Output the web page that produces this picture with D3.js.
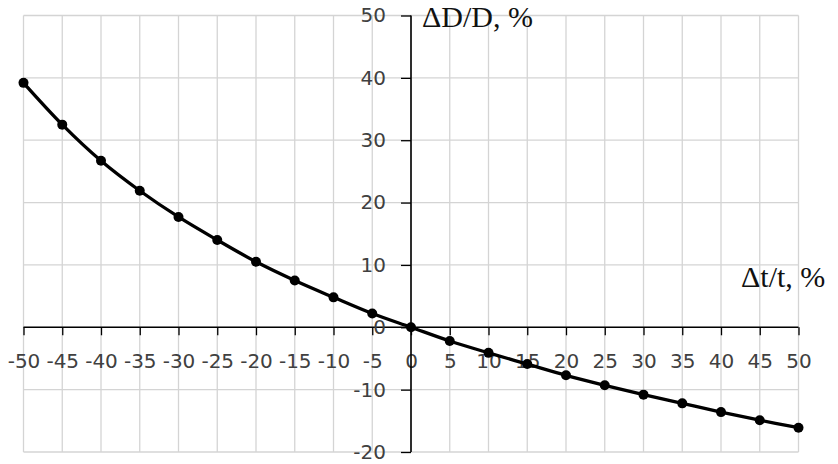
<!DOCTYPE html>
<html><head><meta charset="utf-8">
<script src="https://cdn.jsdelivr.net/npm/d3@7"></script>
<style>body{margin:0;background:#fff}svg{display:block}</style>
</head><body>
<script>
const xValues = [-50,-45,-40,-35,-30,-25,-20,-15,-10,-5,0,5,10,15,20,25,30,35,40,45,50];
const yValues = [39.2,32.5,26.7,21.9,17.7,14.0,10.5,7.5,4.8,2.2,0,-2.2,-4.1,-5.9,-7.7,-9.3,-10.8,-12.2,-13.6,-14.9,-16.1];
const xTicks = d3.range(-50, 51, 5);
const yTicks = [-20,-10,0,10,20,30,40,50];
const xTitle = "Δt/t, %";
const yTitle = "ΔD/D, %";

const W = 838, H = 464;
const svg = d3.select("body").append("svg").attr("width", W).attr("height", H);
const x = d3.scaleLinear().domain([-50, 50]).range([23.5, 798.5]);
const y = d3.scaleLinear().domain([-20, 50]).range([452, 15.5]);
const fmt = d => String(d);

// grid
const grid = svg.append("g").attr("stroke", "#d4d4d4").attr("stroke-width", 1.3);
grid.selectAll("line.v").data(xTicks).join("line")
  .attr("x1", d => x(d)).attr("x2", d => x(d)).attr("y1", y(50)).attr("y2", y(-20));
grid.selectAll("line.h").data(yTicks).join("line")
  .attr("x1", x(-50)).attr("x2", x(50)).attr("y1", d => y(d)).attr("y2", d => y(d));

// x axis at y=0
const xAxis = svg.append("g").attr("transform", `translate(0,${y(0)})`)
  .call(d3.axisBottom(x).tickValues(xTicks).tickSize(8).tickPadding(19).tickFormat(fmt));
// y axis at x=0
const yAxis = svg.append("g").attr("transform", `translate(${x(0)},0)`)
  .call(d3.axisLeft(y).tickValues(yTicks).tickSize(10).tickPadding(15).tickFormat(fmt));
[xAxis, yAxis].forEach(a => {
  a.select(".domain").attr("stroke", "#000").attr("stroke-width", 1.6);
  a.selectAll(".tick line").attr("stroke", "#000").attr("stroke-width", 1.3);
  a.selectAll(".tick text").attr("fill", "#404040").style("font-family", "'DejaVu Sans', sans-serif").style("font-size", "20px");
});
xAxis.select(".domain").attr("d", `M${x(-50)},0H${x(50)}`);
yAxis.select(".domain").attr("d", `M0,${y(50)}V${y(-20)}`);
xAxis.selectAll(".tick text").attr("dy", "0.71em");

// line
svg.append("path").datum(xValues.map((d, i) => [d, yValues[i]]))
  .attr("fill", "none").attr("stroke", "#000").attr("stroke-width", 3.3)
  .attr("d", d3.line().x(d => x(d[0])).y(d => y(d[1])).curve(d3.curveCatmullRom));
svg.append("g").selectAll("circle").data(xValues).join("circle")
  .attr("cx", d => x(d)).attr("cy", (d, i) => y(yValues[i])).attr("r", 5).attr("fill", "#000");

// titles
svg.append("text").attr("x", 422).attr("y", 27).text(yTitle)
  .style("font-family", "'Liberation Serif', serif").style("font-size", "30px").attr("fill", "#111");
svg.append("text").attr("x", 741).attr("y", 287).text(xTitle)
  .style("font-family", "'Liberation Serif', serif").style("font-size", "30px").attr("fill", "#111");
</script>
</body></html>
